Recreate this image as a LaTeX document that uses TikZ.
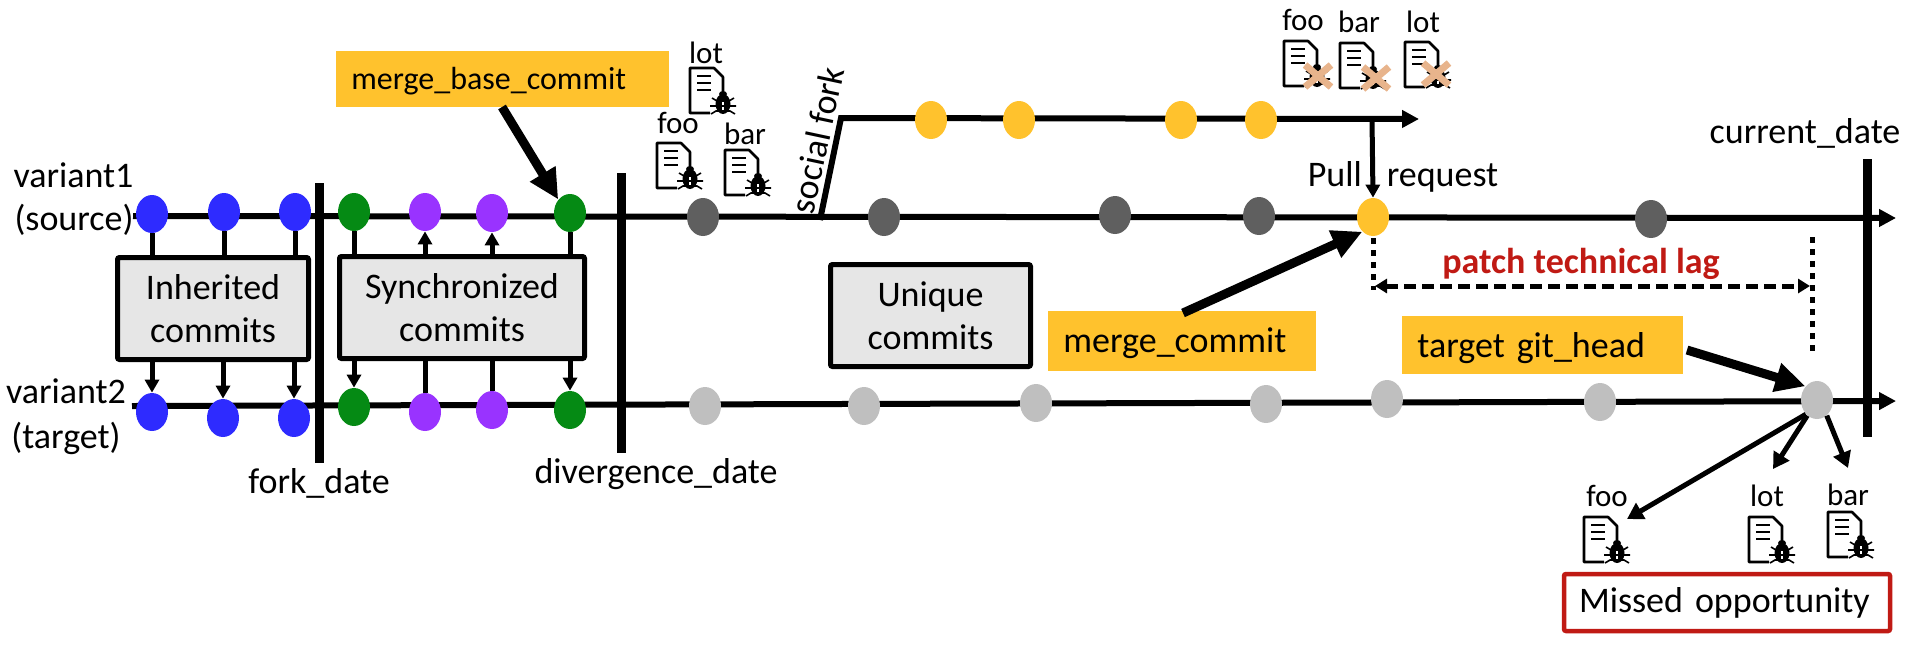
\documentclass[tikz,border=0pt]{standalone}
\usepackage{fontspec}
\setmainfont{Carlito}
\usetikzlibrary{arrows.meta,shapes.geometric}
\definecolor{tagyellow}{HTML}{FFC22D}
\definecolor{lagred}{HTML}{C01A14}
\definecolor{boxgray}{HTML}{E6E6E6}
\definecolor{patchtan}{HTML}{E8B48C}
\definecolor{cblue}{HTML}{2E2BFF}
\definecolor{cgreen}{HTML}{058A14}
\definecolor{cpurple}{HTML}{9933FF}
\definecolor{cdark}{HTML}{5F5F5F}
\definecolor{clight}{HTML}{BFBFBF}
\tikzset{
    commit/.style={ellipse, inner sep=0pt, minimum width=16pt, minimum height=19pt, fill=#1},
    flow/.style={line width=3pt, -{Triangle[length=8.5pt,width=8.5pt]}},
    datebar/.style={line width=4.5pt},
    link/.style={line width=2.5pt},
    linkarrow/.style={line width=2.5pt, -{Triangle[length=6.5pt,width=7pt]}},
    docarrow/.style={line width=2.5pt, -{Triangle[length=8pt,width=9pt]}},
    bigarrow/.style={line width=4.5pt, -{Triangle[length=15pt,width=14pt]}},
    commitbox/.style={draw, line width=2.5pt, fill=boxgray, rounded corners=1pt, inner sep=0pt, minimum height=51pt, align=center},
    tagbox/.style={fill=tagyellow, inner ysep=0pt, inner xsep=7.5pt, anchor=west, align=left},
    txt/.style={inner sep=0pt, anchor=base},
    bugdoc/.pic={
        \draw[line width=1.3pt, line join=round] (33,27) -- (33,9) -- (24,0) -- (0,0) -- (0,45) -- (20,45);
        \foreach \l in {8,15,22} \draw[line width=1.2pt] (7,\l) -- (21,\l);
        \fill (33,36) ellipse [x radius=7.5, y radius=10];
        \fill (33,26) ellipse [x radius=4, y radius=3];
        \draw[white, line width=.8pt] (33,33) -- (33,42);
        \draw[line width=.8pt] (21,46) -- (26,43) -- (40,43) -- (45,46) (22,30) -- (27,33) -- (39,33) -- (44,30) (20,38) -- (46,38);
    },
    patchx/.pic={
        \draw[patchtan, line width=3.5pt] (-13,-11) -- (13,11) (-13,11) -- (13,-11);
    }
}
\begin{document}
\begin{tikzpicture}[x=0.5pt, y=-0.5pt, font=\fontsize{18}{21.5}\selectfont]
    \useasboundingbox (0,0) rectangle (1910,644);
    \coordinate (srcstart) at (133,216);
    \coordinate (srcend) at (1896,218);
    \coordinate (tgtstart) at (132,406);
    \coordinate (tgtend) at (1896,401);
    \coordinate (forkfoot) at (820,220);
    \coordinate (forkknee) at (841,118);
    \coordinate (forkend) at (1419,119);
    \coordinate (prfoot) at (1372,119);
    \draw[flow] (srcstart) -- (srcend);
    \draw[flow] (tgtstart) -- (tgtend);
    \draw[flow] (forkfoot) -- (forkknee) -- (forkend);
    \foreach \n/\x/\y/\c in {bt1/152/214/cblue, bt2/224/212/cblue, bt3/295/212/cblue,
        bb1/152/412/cblue, bb2/223/418/cblue, bb3/294/418/cblue,
        gt1/354/212/cgreen, pt1/425/212/cpurple, pt2/492/213/cpurple, gt2/570/213/cgreen,
        gb1/354/407/cgreen, pb1/425/412/cpurple, pb2/492/410/cpurple, gb2/570/410/cgreen,
        ut1/703/217/cdark, ut2/884/217/cdark, ut3/1115/215/cdark, ut4/1259/216/cdark, ut5/1651/219/cdark,
        ub1/705/406/clight, ub2/864/406/clight, ub3/1036/403/clight, ub4/1266/404/clight,
        ub5/1387/399/clight, ub6/1600/402/clight, githead/1817/400/clight,
        yf1/931/120/tagyellow, yf2/1019/120/tagyellow, yf3/1181/120/tagyellow, yf4/1261/120/tagyellow,
        prmerge/1373/217/tagyellow}
    \node[commit=\c] (\n) at (\x,\y) {};
    \foreach \n/\x/\t/\b in {forkbar/319/183/463, divbar/621/173/453, curbar/1867/159/437} {
        \coordinate (\n top) at (\x,\t);
        \coordinate (\n bot) at (\x,\b);
        \draw[datebar] (\n top) -- (\n bot);
    }
    \node[commitbox, minimum width=95.5pt] (inherited) at (213,308.5) {Inherited\\commits};
    \node[commitbox, minimum width=122.5pt] (synced) at (462,307.5) {Synchronized\\commits};
    \node[commitbox, minimum width=100pt] (unique) at (930.5,315.5) {Unique\\commits};
    \foreach \n in {bt1,bt2,bt3} \draw[link] (\n.south) -- (\n.south |- inherited.north);
    \foreach \n in {bb1,bb2,bb3} \draw[linkarrow] (\n.north |- inherited.south) -- (\n.north);
    \foreach \n in {gt1,gt2} \draw[link] (\n.south) -- (\n.south |- synced.north);
    \foreach \n in {pt1,pt2} \draw[linkarrow] (\n.south |- synced.north) -- (\n.south);
    \foreach \n in {gb1,gb2} \draw[linkarrow] (\n.north |- synced.south) -- (\n.north);
    \foreach \n in {pb1,pb2} \draw[link] (\n.north |- synced.south) -- (\n.north);
    \node[tagbox, text width=151.5pt, text height=19pt, text depth=9pt, font=\fontsize{16}{21.5}\selectfont] (basetag) at (336,79) {merge\_base\_commit};
    \node[tagbox, text width=119pt, text height=20.5pt, text depth=9.5pt] (mergetag) at (1048,341) {merge\_commit};
    \node[tagbox, text width=125.5pt, text height=20.5pt, text depth=8.5pt] (headtag) at (1402,345) {target git\_head};
    \coordinate (basefoot) at (502,107);
    \coordinate (mergefoot) at (1183,313);
    \coordinate (headfoot) at (1687,350);
    \draw[bigarrow] (basefoot) -- (gt2.131);
    \draw[bigarrow] (mergefoot) -- (prmerge.234);
    \draw[bigarrow] (headfoot) -- (githead.130);
    \draw[linkarrow] (prfoot) -- (prmerge.north);
    \coordinate (lagleft) at (1375,286);
    \coordinate (lagright) at (1810,286);
    \coordinate (dotlefttop) at (1373,238);
    \coordinate (dotleftbot) at (1373,290);
    \coordinate (dotrighttop) at (1812,237);
    \coordinate (dotrightbot) at (1812,351);
    \draw[line width=2.5pt, dash pattern=on 3pt off 3pt] (dotlefttop) -- (dotleftbot);
    \draw[line width=2.5pt, dash pattern=on 3pt off 3pt] (dotrighttop) -- (dotrightbot);
    \draw[line width=2.5pt, dash pattern=on 6pt off 3pt, {Triangle[length=6pt,width=7pt]}-{Triangle[length=6pt,width=7pt]}] (lagleft) -- (lagright);
    \node[txt, text=lagred, font=\fontsize{18}{21.5}\selectfont\bfseries] (lagtext) at (1581,273) {patch technical lag};
    \coordinate (missfoo) at (1627,519);
    \coordinate (misslot) at (1773,469);
    \coordinate (missbar) at (1848,468);
    \draw[docarrow] (githead.232) -- (missfoo);
    \draw[docarrow] (githead.238) -- (misslot);
    \draw[docarrow] (githead.302) -- (missbar);
    \node[draw=lagred, line width=2.25pt, rounded corners=1pt, inner ysep=0pt, inner xsep=7.5pt, text width=148pt, minimum height=28.5pt, align=left] (missed) at (1727,602.5) {Missed opportunity};
    \foreach \n/\x/\y/\t in {lsrc/73.5/187/variant1, lsrcb/74/230/(source), ltgt/66/403/variant2, ltgtb/66/448/(target),
        lfork/319/493/fork\_date, ldiv/656/483/divergence\_date, lcur/1805/143/current\_date,
        lpr/1403/186/Pull\hspace{12.5pt}request}
    \node[txt] (\n) at (\x,\y) {\t};
    \foreach \n/\x/\y/\t in {fooa/678/133/foo, lota/706/63/lot, bara/745/144/bar,
        foob/1303/30/foo, barb/1359/32/bar, lotb/1423/32/lot,
        fooc/1607/506/foo, lotc/1767/506/lot, barc/1848/505/bar}
    \node[txt, font=\fontsize{15.5}{18}\selectfont] (\n) at (\x,\y) {\t};
    \node[inner sep=0pt, rotate=78] (socialfork) at (817,140) {social fork};
    \foreach \x/\y in {657/143, 690/68, 725/150, 1284/41, 1340/43, 1405/42, 1584/517, 1749/517, 1828/512}
    \pic at (\x,\y) {bugdoc};
    \foreach \x/\y in {1318/76, 1376/78, 1436/74}
    \pic at (\x,\y) {patchx};
\end{tikzpicture}
\end{document}
